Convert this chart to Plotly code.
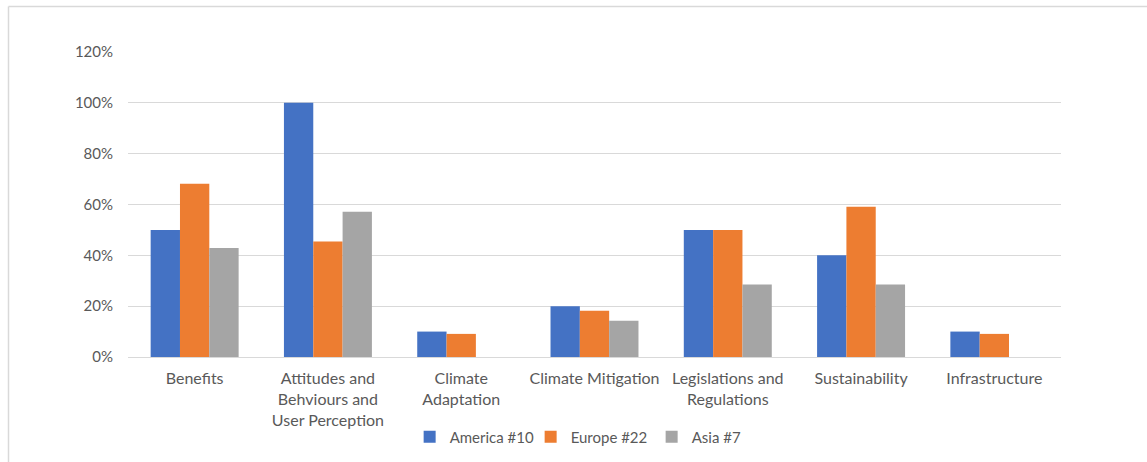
import plotly.graph_objects as go

categories = ["Benefits", "Attitudes and<br>Behviours and<br>User Perception", "Climate<br>Adaptation",
              "Climate Mitigation", "Legislations and<br>Regulations", "Sustainability", "Infrastructure"]
america = [0.50, 1.00, 0.10, 0.20, 0.50, 0.40, 0.10]
europe = [15/22, 10/22, 2/22, 4/22, 11/22, 13/22, 2/22]
asia = [3/7, 4/7, 0, 1/7, 2/7, 2/7, 0]
series_names = ["America #10", "Europe #22", "Asia #7"]
colors = ["#4472C4", "#ED7D31", "#A5A5A5"]
y_ticks = [0, 0.2, 0.4, 0.6, 0.8, 1.0, 1.2]

W, H = 1147, 462
L, R, T, B = 128, 86, 52, 105
pw, ph = W - L - R, H - T - B

font = "Lato, 'Open Sans', sans-serif"
txt = "#595959"

fig = go.Figure()
for name, vals, c in zip(series_names, [america, europe, asia], colors):
    fig.add_trace(go.Bar(x=categories, y=vals, name=name, marker=dict(color=c, line=dict(width=0))))

fig.update_layout(
    width=W, height=H,
    margin=dict(l=L, r=R, t=T, b=B, autoexpand=False),
    paper_bgcolor="white", plot_bgcolor="white",
    barmode="group", bargap=0.34, bargroupgap=0,
    font=dict(family=font, size=16, color=txt),
    showlegend=True,
    legend=dict(orientation="h", x=0.4964, xanchor="center", y=-0.262, yanchor="middle",
                bgcolor="rgba(0,0,0,0)",
                font=dict(family=font, size=15, color=txt), itemwidth=30, tracegroupgap=0,
                entrywidth=76, entrywidthmode="pixels"),
    xaxis=dict(showgrid=False, showline=True, linecolor="#D9D9D9", linewidth=1, ticks="",
               tickfont=dict(family=font, size=16, color=txt), ticklabelstandoff=7),
    yaxis=dict(range=[0, 1.2], tickvals=y_ticks, tickformat=".0%", showgrid=True,
               gridcolor="#D9D9D9", gridwidth=1, zeroline=False, showline=False, ticks="",
               tickfont=dict(family=font, size=15, color=txt), ticklabelstandoff=14),
)

# chart border (left and top edges visible in reference)
x0 = (8.5 - L) / pw
x1 = (W - L) / pw
y_top = 1 + (T - 6.5) / ph
y_bot = -(H - T - ph) / ph
fig.add_shape(type="line", xref="paper", yref="paper", x0=x0, x1=x0, y0=y_bot, y1=y_top,
              line=dict(color="#D9D9D9", width=1.5))
fig.add_shape(type="line", xref="paper", yref="paper", x0=x0, x1=x1, y0=y_top, y1=y_top,
              line=dict(color="#D9D9D9", width=1.5))

fig.write_html("out.html", config={"displayModeBar": False},
               post_script="document.body.style.margin='0';")
